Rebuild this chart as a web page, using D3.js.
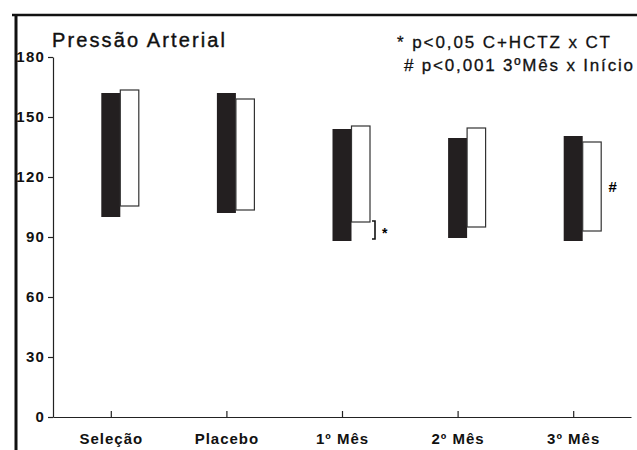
<!DOCTYPE html>
<html>
<head>
<meta charset="utf-8">
<script src="https://cdn.jsdelivr.net/npm/d3@7"></script>
<style>
  body { margin: 0; background: #fff; }
  svg { display: block; font-family: "Liberation Sans", Arial, sans-serif; }
</style>
</head>
<body>
<svg id="chart" width="637" height="450"></svg>
<script>
// data
const categories = ["Seleção", "Placebo", "1º Mês", "2º Mês", "3º Mês"];
const blackLow  = [100, 102, 88, 89.5, 88];
const blackHigh = [162, 162, 144, 139.5, 140.5];
const whiteLow  = [105.5, 103.5, 97.5, 95, 93];
const whiteHigh = [163.5, 159, 145.5, 144.5, 137.5];
const yTicks = [0, 30, 60, 90, 120, 150, 180];
const legendLines = ["* p<0,05 C+HCTZ x CT", "# p<0,001 3ºMês x Início"];

const svg = d3.select("#chart");

const x = d3.scalePoint().domain(categories).range([53, 631]).padding(0.5);
const y = d3.scaleLinear().domain([0, 180]).range([417, 57]);

// scanned page frame
svg.append("line").attr("x1", 12).attr("x2", 637).attr("y1", 15).attr("y2", 15)
    .attr("stroke", "#111").attr("stroke-width", 2.5);
svg.append("line").attr("x1", 16).attr("x2", 16).attr("y1", 14).attr("y2", 450)
    .attr("stroke", "#111").attr("stroke-width", 3);

// y axis
const yAxis = svg.append("g").attr("transform", "translate(53,0)")
    .call(d3.axisLeft(y).tickValues(yTicks).tickSize(5).tickSizeOuter(0).tickPadding(3));
yAxis.select(".domain").attr("stroke", "#222").attr("stroke-width", 1.2);
yAxis.selectAll(".tick line").attr("stroke", "#222").attr("stroke-width", 1.2);
yAxis.selectAll("text")
    .attr("font-size", 15).attr("font-weight", "bold").attr("fill", "#111")
    .attr("letter-spacing", 1.2)
    .attr("font-family", "'Liberation Sans', Arial, sans-serif");

// x axis, ticks pointing inward
const xAxis = svg.append("g").attr("transform", "translate(0,417)")
    .call(d3.axisBottom(x).tickSize(-6).tickSizeOuter(0).tickPadding(16));
xAxis.select(".domain").attr("stroke", "#222").attr("stroke-width", 1.2);
xAxis.selectAll(".tick line").attr("stroke", "#222").attr("stroke-width", 1.2);
xAxis.selectAll("text")
    .attr("font-size", 15).attr("font-weight", "bold").attr("fill", "#111")
    .attr("letter-spacing", 1)
    .attr("font-family", "'Liberation Sans', Arial, sans-serif");

// bars
const barW = 19;
svg.append("g").selectAll("rect").data(categories).join("rect")
    .attr("x", d => x(d) - barW / 2)
    .attr("y", (d, i) => y(blackHigh[i]))
    .attr("width", barW)
    .attr("height", (d, i) => y(blackLow[i]) - y(blackHigh[i]))
    .attr("fill", "#231f20");

svg.append("g").selectAll("rect").data(categories).join("rect")
    .attr("x", d => x(d) + barW / 2)
    .attr("y", (d, i) => y(whiteHigh[i]))
    .attr("width", barW - 0.5)
    .attr("height", (d, i) => y(whiteLow[i]) - y(whiteHigh[i]))
    .attr("fill", "#fff")
    .attr("stroke", "#333")
    .attr("stroke-width", 1.2);

// significance marks
const bx = x(categories[2]) + 33;
const b1 = y(whiteLow[2]) - 1, b2 = y(blackLow[2]) - 2;
svg.append("path")
    .attr("d", `M${bx - 3},${b1}H${bx}V${b2}H${bx - 3}`)
    .attr("fill", "none").attr("stroke", "#111").attr("stroke-width", 1.6);
svg.append("text").attr("x", bx + 7).attr("y", (b1 + b2) / 2 + 8)
    .attr("font-size", 14).attr("font-weight", "bold").text("*");

svg.append("text")
    .attr("x", x(categories[4]) + 35)
    .attr("y", y((whiteLow[4] + whiteHigh[4]) / 2) + 5)
    .attr("font-size", 15).attr("font-weight", "bold").attr("font-style", "italic")
    .text("#");

// title and legend
svg.append("text").attr("x", 52).attr("y", 47)
    .attr("font-size", 20).attr("fill", "#111")
    .attr("stroke", "#111").attr("stroke-width", 0.4)
    .attr("textLength", 173).attr("lengthAdjust", "spacing")
    .text("Pressão Arterial");

svg.selectAll(".legend").data(legendLines).join("text")
    .attr("class", "legend")
    .attr("x", (d, i) => i === 0 ? 397 : 404)
    .attr("y", (d, i) => 48 + i * 23)
    .attr("font-size", 17).attr("fill", "#111")
    .attr("stroke", "#111").attr("stroke-width", 0.3)
    .attr("textLength", (d, i) => i === 0 ? 213 : 229)
    .attr("lengthAdjust", "spacing")
    .text(d => d);
</script>
</body>
</html>
